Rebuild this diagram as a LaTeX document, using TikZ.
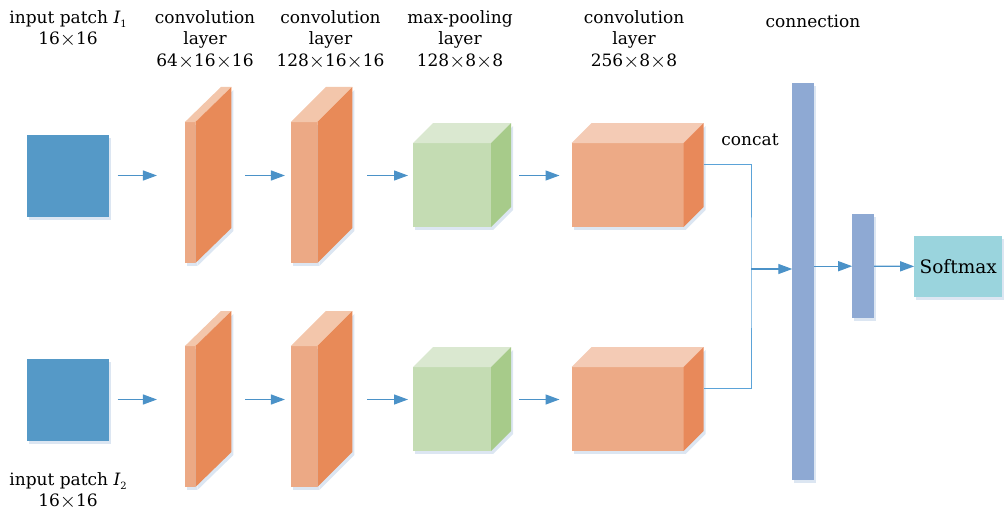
\documentclass[tikz,border=0pt]{standalone}
\usepackage{fontspec}
\setmainfont{DejaVu Serif}
\usetikzlibrary{positioning,calc,arrows.meta,shadows}
\definecolor{patchblue}{HTML}{5599C7}
\definecolor{slabfront}{HTML}{ECA985}
\definecolor{slabside}{HTML}{E88A58}
\definecolor{slabtop}{HTML}{F3C6AB}
\definecolor{poolfront}{HTML}{C4DCB3}
\definecolor{poolside}{HTML}{A7CB8A}
\definecolor{pooltop}{HTML}{DAE8D0}
\definecolor{convfront}{HTML}{EDAA86}
\definecolor{convside}{HTML}{E8895A}
\definecolor{convtop}{HTML}{F4CBB5}
\definecolor{barblue}{HTML}{8EA9D3}
\definecolor{softcyan}{HTML}{9AD4DD}
\definecolor{flowblue}{HTML}{4B92C8}
\definecolor{linkblue}{HTML}{5BA3D8}
\definecolor{shadowblue}{HTML}{DCE6F2}
\newcommand{\by}{\smash{\raisebox{-1.3pt}{\fontsize{21}{20}\selectfont$\times$}}}
\newcommand{\patchsub}[1]{\smash{\raisebox{-0.5ex}{\fontsize{10}{10}\selectfont #1}}}
\tikzset{
	block/.style = {inner sep=0, outer sep=0, draw=none,
		drop shadow={shadow xshift=2pt, shadow yshift=-3pt, fill=shadowblue, opacity=1}},
	patch/.style = {block, fill=patchblue, minimum width=82pt, minimum height=82pt},
	slab/.style = {block, fill=slabfront, minimum height=141pt},
	pool/.style = {block, fill=poolfront, minimum width=78pt, minimum height=84pt},
	conv/.style = {block, fill=convfront, minimum width=112pt, minimum height=84pt},
	bar/.style = {block, fill=barblue, minimum width=22pt},
	softbox/.style = {block, fill=softcyan, minimum width=88pt, minimum height=61pt, font=\fontsize{18.5}{21}\selectfont},
	flow/.style = {draw=flowblue, line width=1.3pt, -{Triangle[length=14pt,width=10pt]}},
	link/.style = {draw=linkblue, line width=1pt},
	label/.style = {align=center, inner sep=0, font=\fontsize{17}{21.5}\selectfont}
}

\begin{document}
\begin{tikzpicture}[x=1pt, y=-1pt]
	\useasboundingbox (0,0) rectangle (1007,511);
	
	% two branches
	\foreach \r/\y in {a/0, b/224} {
		\node [patch] (in\r) at (67.5, 175.5+\y) {};
		\node [slab, minimum width=10.5pt] (sa\r) at (190.2, 192.5+\y) {};
		\node [slab, minimum width=26.5pt] (sb\r) at (304.2, 192.5+\y) {};
		\node [pool] (pool\r) at (452, 185.2+\y) {};
		\node [conv] (cv\r) at (627.5, 185.2+\y) {};
		
		\foreach \n/\dx/\dy/\sc/\tc in {sa/36/-35/slabside/slabtop, sb/35/-35/slabside/slabtop,
			pool/20/-20/poolside/pooltop, cv/20/-20/convside/convtop} {
			\fill [shadowblue] ([shift={(2,3)}]\n\r.north east) -- ++(\dx,\dy)
				-- ([shift={(\dx+2,\dy+3)}]\n\r.south east) -- ([shift={(2,3)}]\n\r.south east) -- cycle;
			\fill [\tc] (\n\r.north west) -- ++(\dx,\dy) -- ([shift={(\dx,\dy)}]\n\r.north east) -- (\n\r.north east) -- cycle;
			\fill [\sc] (\n\r.north east) -- ++(\dx,\dy) -- ([shift={(\dx,\dy)}]\n\r.south east) -- (\n\r.south east) -- cycle;
		}
		
		\draw [flow, shorten <=9pt, shorten >=28pt] (in\r.east) -- (in\r.east -| sa\r.west);
		\draw [flow, shorten <=50pt, shorten >=6pt] (in\r.east -| sa\r.east) -- (in\r.east -| sb\r.west);
		\draw [flow, shorten <=50pt, shorten >=5pt] (in\r.east -| sb\r.east) -- (in\r.east -| pool\r.west);
		\draw [flow, shorten <=28pt, shorten >=12pt] (in\r.east -| pool\r.east) -- (in\r.east -| cv\r.west);
		
		\coordinate (out\r) at ([shift={(20,-21)}]cv\r.east);
	}
	
	\node [bar, minimum height=397pt] (conn) at (803.3, 281.7) {};
	\node [bar, minimum height=104pt] (fc) at (863.2, 266.2) {};
	\node [softbox] (soft) at (958.2, 266.4) {Softmax};
	
	\coordinate (joint) at (751, 269);
	\draw [link] (outa) -| (joint) |- (outb);
	\draw [flow] (joint) -- (joint -| conn.west);
	\draw [flow] (conn.east |- fc.west) -- (fc.west);
	\draw [flow] (fc.east) -- (soft.west);
	
	% labels
	\node [label, anchor=north] (lina) at (68, 10) {input patch {\itshape I}\patchsub{1}\\16\by16};
	\node [label, anchor=north] (lsa) at (205, 10) {convolution\\layer\\64\by16\by16};
	\node [label, anchor=north] (lsb) at (330.5, 10) {convolution\\layer\\128\by16\by16};
	\node [label, anchor=north] (lpool) at (460, 10) {max-pooling\\layer\\128\by8\by8};
	\node [label, anchor=north] (lcv) at (634, 10) {convolution\\layer\\256\by8\by8};
	\node [label, anchor=north] (lconn) at (813, 15) {connection};
	\node [label] (lcat) at (750, 140) {concat};
	\node [label, anchor=north] (linb) at (68, 472) {input patch {\itshape I}\patchsub{2}\\16\by16};
\end{tikzpicture}
\end{document}
